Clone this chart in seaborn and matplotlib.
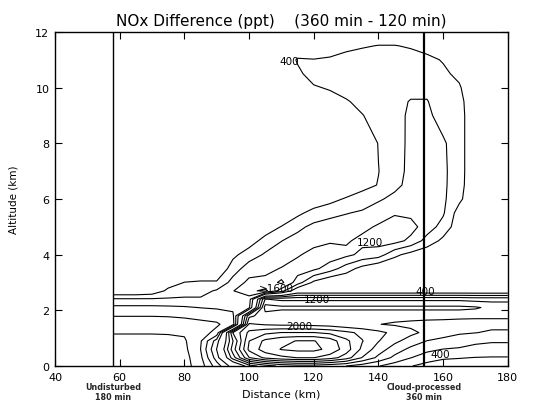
import numpy as np
import matplotlib
matplotlib.use("Agg")
import matplotlib.pyplot as plt
import seaborn as sns

# ---------------- data ----------------
distance_km = [58, 65, 70, 75, 80, 85, 90, 95, 100, 105, 110, 115, 120,
               125, 130, 135, 140, 145, 150, 155, 160, 165, 170, 175, 180]
altitude_km = [0, 0.3, 0.6, 0.9, 1.2, 1.5, 1.8, 2.1, 2.4, 2.7, 3.0, 3.5, 4.0,
               4.5, 5.0, 5.5, 6.0, 6.5, 7.0, 8.0, 9.0, 9.5, 10.0, 10.5, 11.0,
               11.5, 12.0]
# NOx difference (ppt), one row per altitude, one column per distance
nox_diff_ppt = [
    [2200, 2200, 2200, 2200, 2150, 1800, 1000, 200, -600, -1000, -1300, -1400, -1400, -1300, -1200, -1000, -820, -600, -420, -250, -200, -200, -200, -200, -200],
    [2200, 2200, 2200, 2200, 2150, 1700, 600, -1000, -2380, -2900, -3100, -3210, -3210, -3000, -2600, -1980, -1500, -1100, -810, -600, -450, -420, -390, -380, -380],
    [2150, 2150, 2150, 2150, 2100, 1600, 380, -1400, -2900, -3400, -3620, -3700, -3700, -3500, -3000, -2300, -1800, -1400, -1100, -900, -790, -750, -650, -600, -600],
    [2100, 2100, 2100, 2100, 2050, 1650, 600, -1180, -2790, -3300, -3500, -3620, -3620, -3420, -2900, -2420, -2020, -1700, -1420, -1190, -1100, -1000, -900, -850, -850],
    [1980, 1980, 1980, 1970, 1950, 1750, 1500, -1620, -2500, -2700, -2810, -2810, -2810, -2700, -2500, -2300, -2100, -1900, -1700, -1500, -1350, -1250, -1210, -1150, -1150],
    [1800, 1800, 1800, 1780, 1750, 1700, 1650, 1400, -2050, -1950, -1900, -1900, -1850, -1800, -1700, -1650, -1610, -1550, -1500, -1450, -1420, -1350, -1300, -1300, -1300],
    [1590, 1590, 1590, 1580, 1550, 1500, 1450, 1300, -1500, -1800, -1750, -1750, -1750, -1750, -1750, -1750, -1750, -1750, -1750, -1750, -1750, -1750, -1750, -1750, -1750],
    [1300, 1300, 1300, 1280, 1250, 1190, 1150, 1100, 900, -2200, -2100, -2100, -2100, -2100, -2100, -2100, -2100, -2100, -2100, -2100, -2100, -2100, -2050, -1900, -1900],
    [850, 850, 850, 850, 850, 850, 850, 900, 1000, -1620, -1500, -1500, -1500, -1500, -1500, -1500, -1500, -1500, -1500, -1500, -1500, -1500, -1450, -1450, -1450],
    [0, 0, 100, 500, 650, 650, 850, 1180, 1500, 1700, 1000, 0, 0, 0, 0, 0, 0, 0, 0, 0, 0, 0, 0, 0, 0],
    [0, 0, 0, 200, 410, 450, 450, 950, 1300, 1300, 1700, 1000, 300, 0, 0, 0, 0, 0, 0, 0, 0, 0, 0, 0, 0],
    [0, 0, 0, 0, 0, 0, 0, 600, 1000, 1100, 1220, 1400, 1300, 1000, 600, 250, 0, 0, 0, 0, 0, 0, 0, 0, 0],
    [0, 0, 0, 0, 0, 0, 0, 300, 600, 850, 1000, 1150, 1350, 1420, 1300, 1100, 1000, 500, 250, 100, 0, 0, 0, 0, 0],
    [0, 0, 0, 0, 0, 0, 0, 0, 200, 550, 790, 950, 1050, 1150, 1150, 1300, 1350, 1350, 1100, 650, 300, 0, 0, 0, 0],
    [0, 0, 0, 0, 0, 0, 0, 0, 0, 150, 420, 700, 900, 950, 1000, 1100, 1250, 1420, 1350, 1000, 650, 150, 0, 0, 0],
    [0, 0, 0, 0, 0, 0, 0, 0, 0, 0, 0, 300, 550, 700, 780, 850, 1000, 1150, 1100, 1000, 850, 200, 0, 0, 0],
    [0, 0, 0, 0, 0, 0, 0, 0, 0, 0, 0, 0, 100, 250, 450, 600, 750, 900, 950, 950, 870, 500, 0, 0, 0],
    [0, 0, 0, 0, 0, 0, 0, 0, 0, 0, 0, 0, 0, 0, 0, 250, 420, 700, 920, 950, 870, 580, 0, 0, 0],
    [0, 0, 0, 0, 0, 0, 0, 0, 0, 0, 0, 0, 0, 0, 0, 0, 390, 650, 900, 950, 870, 600, 0, 0, 0],
    [0, 0, 0, 0, 0, 0, 0, 0, 0, 0, 0, 0, 0, 0, 0, 0, 420, 620, 900, 920, 850, 600, 0, 0, 0],
    [0, 0, 0, 0, 0, 0, 0, 0, 0, 0, 0, 0, 0, 0, 0, 380, 600, 650, 880, 880, 650, 600, 0, 0, 0],
    [0, 0, 0, 0, 0, 0, 0, 0, 0, 0, 0, 0, 0, 200, 350, 550, 650, 700, 820, 820, 600, 560, 0, 0, 0],
    [0, 0, 0, 0, 0, 0, 0, 0, 0, 0, 0, 0, 350, 450, 600, 650, 680, 700, 700, 700, 550, 450, 0, 0, 0],
    [0, 0, 0, 0, 0, 0, 0, 0, 0, 0, 0, 300, 600, 650, 680, 680, 700, 700, 680, 620, 480, 300, 0, 0, 0],
    [0, 0, 0, 0, 0, 0, 0, 0, 0, 0, 0, 450, 420, 500, 600, 650, 680, 650, 600, 500, 370, 0, 0, 0, 0],
    [0, 0, 0, 0, 0, 0, 0, 0, 0, 0, 0, 0, 0, 0, 250, 350, 420, 420, 350, 250, 0, 0, 0, 0, 0],
    [0, 0, 0, 0, 0, 0, 0, 0, 0, 0, 0, 0, 0, 0, 0, 0, 0, 0, 0, 0, 0, 0, 0, 0, 0],
]
contour_levels = [-3600, -3200, -2800, -2400, -2000, -1600, -1200, -800, -400,
                  400, 800, 1200, 1600, 2000]

label_text = ["400", "1200", ">1600", "1200", "2000", "400", "400"]
label_x = [112.5, 137.5, 108.5, 121.0, 115.5, 154.5, 159.0]
label_y = [10.95, 4.45, 2.82, 2.39, 1.42, 2.68, 0.43]

marker_km = [58, 154]
marker_names = ["Undisturbed", "Cloud-processed"]
marker_times = ["180 min", "360 min"]

x_ticks = [40, 60, 80, 100, 120, 140, 160, 180]
y_ticks = [0, 2, 4, 6, 8, 10, 12]

# ---------------- plot ----------------
sns.set_theme(style="ticks")
plt.rcParams["font.family"] = ["DejaVu Sans"]

fig = plt.figure(figsize=(5.34, 4.02), dpi=100)
ax = fig.add_axes([0.103, 0.087, 0.848, 0.831])

X, Y = np.meshgrid(distance_km, altitude_km)
Z = np.array(nox_diff_ppt, dtype=float)
ax.contour(X, Y, Z, levels=contour_levels, colors="black",
           linewidths=0.8, linestyles="solid", negative_linestyles="solid")

ax.axvline(marker_km[0], color="black", lw=1.0)
ax.axvline(marker_km[1], color="black", lw=1.6)

for t, x, y in zip(label_text, label_x, label_y):
    ax.text(x, y, t, fontsize=7.5, ha="center", va="center", color="black")

ax.set_xlim(40, 180)
ax.set_ylim(0, 12)
ax.set_xticks(x_ticks)
ax.set_yticks(y_ticks)
ax.tick_params(direction="in", top=True, right=True, length=5, width=0.8,
               labelsize=8, colors="black", pad=4)
for sp in ax.spines.values():
    sp.set_color("black")
    sp.set_linewidth(1.0)

ax.set_title("NOx Difference (ppt)    (360 min - 120 min)", fontsize=11,
             pad=5, color="black")
ax.set_ylabel("Altitude (km)", fontsize=7.5, labelpad=12, color="black")
ax.set_xlabel("Distance (km)", fontsize=8, labelpad=5, color="black")

for name, tm, x in zip(marker_names, marker_times, marker_km):
    ax.annotate(name, xy=(x, 0), xycoords="data", xytext=(0, -15),
                textcoords="offset points", ha="center", va="center",
                fontsize=5.8, fontweight="bold", annotation_clip=False)
    ax.annotate(tm, xy=(x, 0), xycoords="data", xytext=(0, -21.8),
                textcoords="offset points", ha="center", va="center",
                fontsize=5.8, fontweight="bold", annotation_clip=False)

fig.savefig("out.png", dpi=100, facecolor="white")
